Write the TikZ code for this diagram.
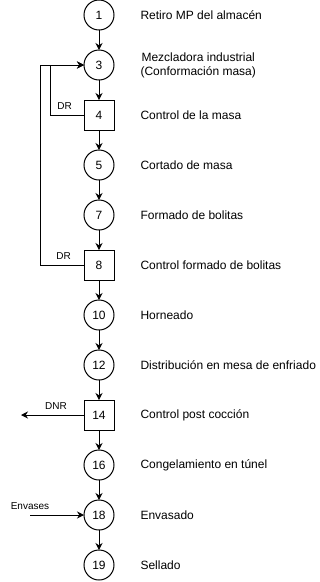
\documentclass[tikz,border=0pt]{standalone}
\usepackage{fontspec}
\setmainfont{Liberation Sans}
\usetikzlibrary{positioning,arrows.meta}
\tikzset{
  oper/.style  = {draw, circle, line width=1pt, minimum size=30pt, inner sep=0pt,
                  outer sep=0pt, font=\fontsize{12}{14}\selectfont},
  insp/.style  = {draw, rectangle, line width=1pt, minimum size=30pt, inner sep=0pt,
                  outer sep=0pt, font=\fontsize{12}{14}\selectfont},
  desc/.style  = {align=center, font=\fontsize{12}{14}\selectfont},
  note/.style  = {inner sep=1pt, font=\fontsize{10}{12}\selectfont},
  arrow/.style = {-{Stealth[length=7pt,width=7pt]}, line width=1pt},
}
\begin{document}
\begin{tikzpicture}[x=1pt, y=1pt, node distance=20pt and 23pt]
  \useasboundingbox (0,0) rectangle (320,-582);
  \node[oper] (retiro) at (99,-15) {1};
  \node[oper, below=of retiro]   (mezcla)   {3};
  \node[insp, below=of mezcla]   (ctrlmasa) {4};
  \node[oper, below=of ctrlmasa] (cortado)  {5};
  \node[oper, below=of cortado]  (formado)  {7};
  \node[insp, below=of formado]  (ctrlbol)  {8};
  \node[oper, below=of ctrlbol]  (horno)    {10};
  \node[oper, below=of horno]    (enfria)   {12};
  \node[insp, below=of enfria]   (ctrlpost) {14};
  \node[oper, below=of ctrlpost] (congela)  {16};
  \node[oper, below=of congela]  (envasado) {18};
  \node[oper, below=of envasado] (sellado)  {19};
  % descriptions
  \node[desc, right=of retiro]   (dretiro)   {Retiro MP del almacén};
  \node[desc, right=of mezcla]   (dmezcla)   {Mezcladora industrial\\(Conformación masa)};
  \node[desc, right=of ctrlmasa] (dctrlmasa) {Control de la masa};
  \node[desc, right=of cortado]  (dcortado)  {Cortado de masa};
  \node[desc, right=of formado]  (dformado)  {Formado de bolitas};
  \node[desc, right=of ctrlbol]  (dctrlbol)  {Control formado de bolitas};
  \node[desc, right=of horno]    (dhorno)    {Horneado};
  \node[desc, right=of enfria]   (denfria)   {Distribución en mesa de enfriado};
  \node[desc, right=of ctrlpost] (dctrlpost) {Control post cocción};
  \node[desc, right=of congela]  (dcongela)  {Congelamiento en túnel};
  \node[desc, right=of envasado] (denvasado) {Envasado};
  \node[desc, right=of sellado]  (dsellado)  {Sellado};
  % main line
  \draw[arrow] (retiro) -- (mezcla); \draw[arrow] (mezcla) -- (ctrlmasa);
  \draw[arrow] (ctrlmasa) -- (cortado); \draw[arrow] (cortado) -- (formado);
  \draw[arrow] (formado) -- (ctrlbol); \draw[arrow] (ctrlbol) -- (horno);
  \draw[arrow] (horno) -- (enfria); \draw[arrow] (enfria) -- (ctrlpost);
  \draw[arrow] (ctrlpost) -- (congela); \draw[arrow] (congela) -- (envasado);
  \draw[arrow] (envasado) -- (sellado);
  % rework loops
  \draw[arrow] (ctrlmasa.west) -- ++(-34,0) |- (mezcla.west);
  \draw[arrow] (ctrlbol.west) -- ++(-44,0) |- (mezcla.west);
  \node[note, above left=4pt and 11pt of ctrlmasa.west] (dr1) {DR};
  \node[note, above left=4pt and 12pt of ctrlbol.west]  (dr2) {DR};
  % rejects and inputs
  \coordinate[left=63pt of ctrlpost.west] (dnrend);
  \draw[arrow] (ctrlpost.west) -- (dnrend);
  \node[note, above left=4pt and 16pt of ctrlpost.west] (dnr) {DNR};
  \coordinate[left=54pt of envasado.west] (envin);
  \draw[arrow] (envin) -- (envasado.west);
  \node[note, above=4pt of envin] (envases) {Envases};
\end{tikzpicture}
\end{document}
